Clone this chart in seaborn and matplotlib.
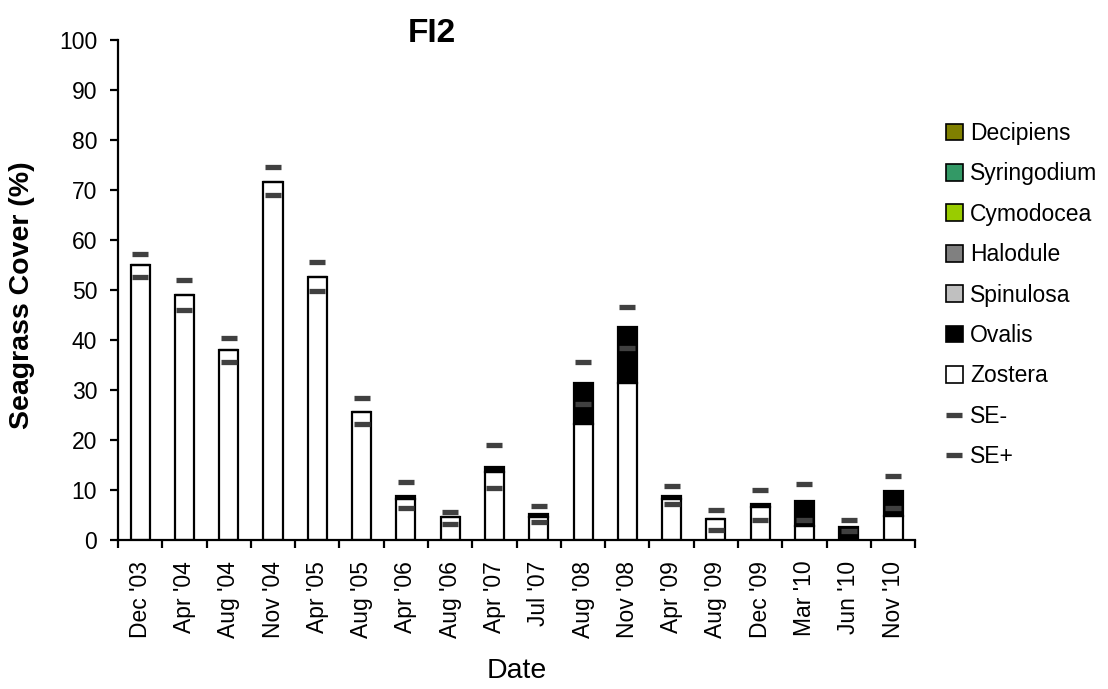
import matplotlib
matplotlib.use("Agg")
import matplotlib.pyplot as plt
from matplotlib.patches import Patch
from matplotlib.lines import Line2D
import seaborn as sns

# --- DATA ---
dates = ["Dec '03", "Apr '04", "Aug '04", "Nov '04", "Apr '05", "Aug '05",
         "Apr '06", "Aug '06", "Apr '07", "Jul '07", "Aug '08", "Nov '08",
         "Apr '09", "Aug '09", "Dec '09", "Mar '10", "Jun '10", "Nov '10"]
zostera = [54.9, 48.9, 38.0, 71.6, 52.5, 25.6, 8.2, 4.5, 13.5, 4.6,
           23.1, 31.4, 8.1, 4.1, 6.6, 2.7, 0.0, 4.7]
ovalis = [0, 0, 0, 0, 0, 0, 0.6, 0, 1.0, 0.5,
          8.2, 11.1, 0.7, 0, 0.6, 5.0, 2.5, 5.0]
se_plus = [57.2, 52.0, 40.4, 74.5, 55.6, 28.4, 11.6, 5.6, 18.9, 6.8,
           35.6, 46.5, 10.8, 6.0, 10.0, 11.2, 4.0, 12.8]
se_minus = [52.5, 46.0, 35.6, 68.9, 49.7, 23.2, 6.4, 3.2, 10.4, 3.6,
            27.2, 38.4, 7.2, 2.0, 4.0, 4.0, 1.8, 6.4]
species = ['Decipiens', 'Syringodium', 'Cymodocea', 'Halodule',
           'Spinulosa', 'Ovalis', 'Zostera']
species_colors = ['#808000', '#339966', '#99cc00', '#808080',
                  '#c0c0c0', '#000000', '#ffffff']

# --- SETUP ---
sns.set_style("ticks")
plt.rcParams['font.family'] = ['Liberation Sans', 'DejaVu Sans']
plt.rcParams.update({'text.color': 'black', 'axes.labelcolor': 'black',
                     'xtick.color': 'black', 'ytick.color': 'black',
                     'axes.edgecolor': 'black'})

fig = plt.figure(figsize=(11.08, 6.89), dpi=100)
ax = fig.add_axes([0.1065, 0.2163, 0.7195, 0.7257])

# stacked bars: zostera at the bottom, ovalis on top
sns.barplot(x=dates, y=zostera, color='white', edgecolor='black',
            linewidth=1.6, width=0.43, ax=ax, saturation=1)
sns.barplot(x=dates, y=ovalis, bottom=zostera, color='black', edgecolor='black',
            linewidth=1.6, width=0.43, ax=ax, saturation=1)

se_col = '#404040'
ax.plot(dates, se_plus, ls='none', marker='_', ms=12, mew=3.8, color=se_col)
ax.plot(dates, se_minus, ls='none', marker='_', ms=12, mew=3.8, color=se_col)

ax.set_xlim(-0.5, len(dates) - 0.5)
ax.set_ylim(0, 100)
ax.set_yticks(range(0, 101, 10))
ax.set_xticks([i - 0.5 for i in range(len(dates) + 1)], minor=True)
ax.tick_params(axis='x', which='major', length=0, labelrotation=90, labelsize=16.5, pad=15)
ax.tick_params(axis='x', which='minor', length=6, width=1.6, direction='out')
ax.tick_params(axis='y', length=6, width=1.6, labelsize=16.5, pad=9)
for s in ['left', 'bottom']:
    ax.spines[s].set_linewidth(1.6)
sns.despine(ax=ax)

ax.set_ylabel('Seagrass Cover (%)', fontsize=20.5, fontweight='bold')
ax.yaxis.set_label_coords(-0.104, 0.49)
ax.set_xlabel('Date', fontsize=20.5)
ax.xaxis.set_label_coords(0.5, -0.236)
fig.text(0.39, 0.952, 'FI2', fontsize=24, fontweight='bold', ha='center', va='center')

handles = [Patch(facecolor=c, edgecolor='black', linewidth=1.2) for c in species_colors]
handles += [Line2D([], [], ls='none', marker='_', ms=12, mew=3.8, color=se_col)] * 2
labels = species + ['SE-', 'SE+']
fig.legend(handles, labels, loc='upper left', bbox_to_anchor=(0.835, 0.853),
           frameon=False, fontsize=16.5, handlelength=0.75, handleheight=0.75,
           handletextpad=0.3, labelspacing=0.76)

plt.savefig('out.png', dpi=100)
plt.close()
